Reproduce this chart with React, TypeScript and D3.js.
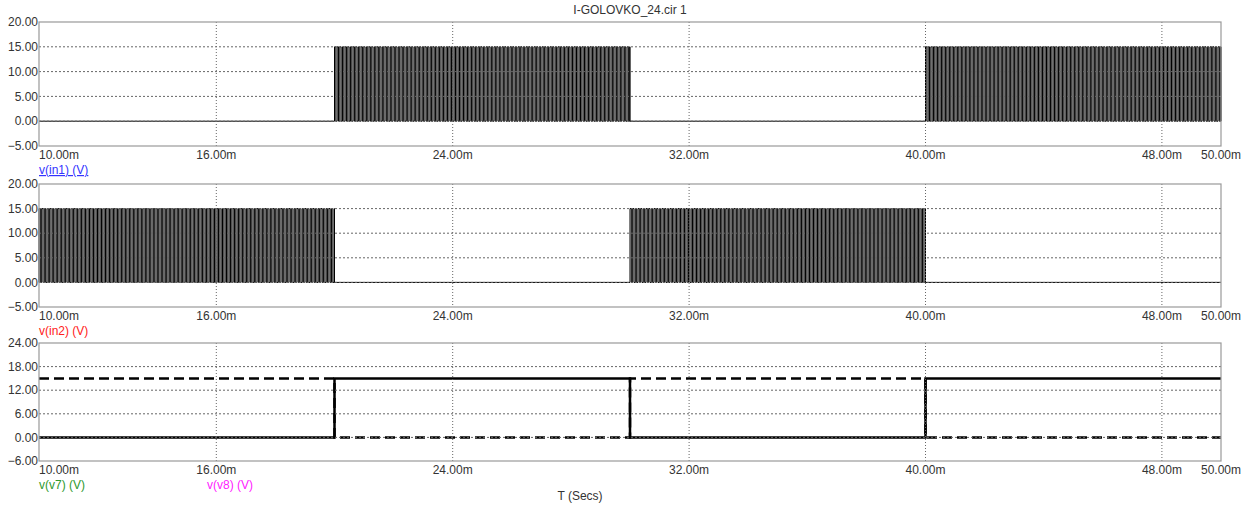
import React from 'react';
import * as d3 from 'd3';

// time axis (ms)
const xDomain = [10, 50];
const xTicks = [10, 16, 24, 32, 40, 48, 50];
const xGrid = [16, 24, 32, 40, 48];

// pulse inputs: burst windows (ms) where the switching signal is active
const in1Bursts = [[20, 30], [40, 50]];
const in2Bursts = [[10, 20], [30, 40]];
const pulseHigh = 15;
const switchPeriod = 0.09; // ms, carrier period of the bursts

// outputs: [time ms, volts] step points
const v7Steps = [[10, 0], [20, 15], [30, 0], [40, 15], [50, 15]];
const v8Steps = [[10, 15], [20, 0], [30, 15], [40, 0], [50, 0]];

const yTicksIn = [-5, 0, 5, 10, 15, 20];
const yTicksOut = [-6, 0, 6, 12, 18, 24];

const W = 1250;
const H = 506;
const left = 39;
const right = 1221;
const font = 'Arial, "Liberation Sans", sans-serif';

const x = d3.scaleLinear().domain(xDomain).range([left, right]);

function burstPath(bursts: number[][], y: d3.ScaleLinear<number, number>) {
  const pts: [number, number][] = [[xDomain[0], 0]];
  bursts.forEach(([a, b]) => {
    pts.push([a, 0]);
    for (let t = a; t < b - 1e-9; t += switchPeriod) {
      pts.push([t, pulseHigh]);
      pts.push([Math.min(t + switchPeriod / 2, b), pulseHigh]);
      pts.push([Math.min(t + switchPeriod / 2, b), 0]);
      pts.push([Math.min(t + switchPeriod, b), 0]);
    }
  });
  pts.push([xDomain[1], 0]);
  pts.sort((p, q) => p[0] - q[0]);
  const line = d3.line<[number, number]>().x(d => x(d[0])).y(d => y(d[1]));
  return line(pts) || '';
}

function stepPath(steps: number[][], y: d3.ScaleLinear<number, number>) {
  const line = d3.line<number[]>().x(d => x(d[0])).y(d => y(d[1])).curve(d3.curveStepAfter);
  return line(steps) || '';
}

type Legend = { text: string; color: string; x: number; underline?: boolean };

function Panel(props: {
  top: number;
  bottom: number;
  ticks: number[];
  legends: Legend[];
  children: (y: d3.ScaleLinear<number, number>) => React.ReactNode;
}) {
  const { top, bottom, ticks, legends } = props;
  const y = d3.scaleLinear().domain([ticks[0], ticks[ticks.length - 1]]).range([bottom, top]);
  const fmt = d3.format('.2f');
  const inner = ticks.slice(1, -1);
  return (
    <g>
      {props.children(y)}
      {inner.map(t => (
        <line key={'h' + t} x1={left} x2={right} y1={y(t)} y2={y(t)}
          stroke="#666" strokeWidth={1} strokeDasharray="2,2" />
      ))}
      {xGrid.map(t => (
        <line key={'v' + t} x1={x(t)} x2={x(t)} y1={top} y2={bottom}
          stroke="#666" strokeWidth={1} strokeDasharray="1,2" />
      ))}
      <rect x={left} y={top} width={right - left} height={bottom - top}
        fill="none" stroke="#999" strokeWidth={1.2} />
      {ticks.map(t => (
        <text key={'yl' + t} x={left - 1} y={y(t)} dy="0.35em" textAnchor="end"
          fontSize={12} fill="#333" fontFamily={font}>{fmt(t)}</text>
      ))}
      {xTicks.map((t, i) => (
        <text key={'xl' + t} x={i === 0 ? left : x(t)} y={bottom + 13}
          textAnchor={i === 0 ? 'start' : 'middle'}
          fontSize={12} fill="#333" fontFamily={font}>{fmt(t) + 'm'}</text>
      ))}
      {legends.map(l => (
        <text key={l.text} x={l.x} y={bottom + 28} fontSize={12} fill={l.color}
          fontFamily={font} textDecoration={l.underline ? 'underline' : undefined}>{l.text}</text>
      ))}
    </g>
  );
}

export default function App() {
  return (
    <svg width={W} height={H} style={{ position: 'absolute', left: 0, top: 0, background: '#fff' }}>
      <rect width={W} height={H} fill="#fff" />
      <text x={630} y={14} textAnchor="middle" fontSize={12} fill="#333" fontFamily={font}>
        I-GOLOVKO_24.cir 1
      </text>
      <Panel top={22} bottom={146} ticks={yTicksIn}
        legends={[{ text: 'v(in1) (V)', color: '#3333ff', x: left, underline: true }]}>
        {y => <path d={burstPath(in1Bursts, y)} fill="none" stroke="#000" strokeWidth={1} />}
      </Panel>
      <Panel top={184} bottom={307} ticks={yTicksIn}
        legends={[{ text: 'v(in2) (V)', color: '#ff2020', x: left }]}>
        {y => <path d={burstPath(in2Bursts, y)} fill="none" stroke="#000" strokeWidth={1} />}
      </Panel>
      <Panel top={343} bottom={461} ticks={yTicksOut}
        legends={[
          { text: 'v(v7) (V)', color: '#2e9a2e', x: left },
          { text: 'v(v8) (V)', color: '#ff20ff', x: 207 },
        ]}>
        {y => (
          <g>
            <path d={stepPath(v8Steps, y)} fill="none" stroke="#000" strokeWidth={2.5}
              strokeDasharray="10,5" />
            <path d={stepPath(v7Steps, y)} fill="none" stroke="#000" strokeWidth={2.5} />
          </g>
        )}
      </Panel>
      <text x={580} y={500} textAnchor="middle" fontSize={12} fill="#333" fontFamily={font}>T (Secs)</text>
    </svg>
  );
}
